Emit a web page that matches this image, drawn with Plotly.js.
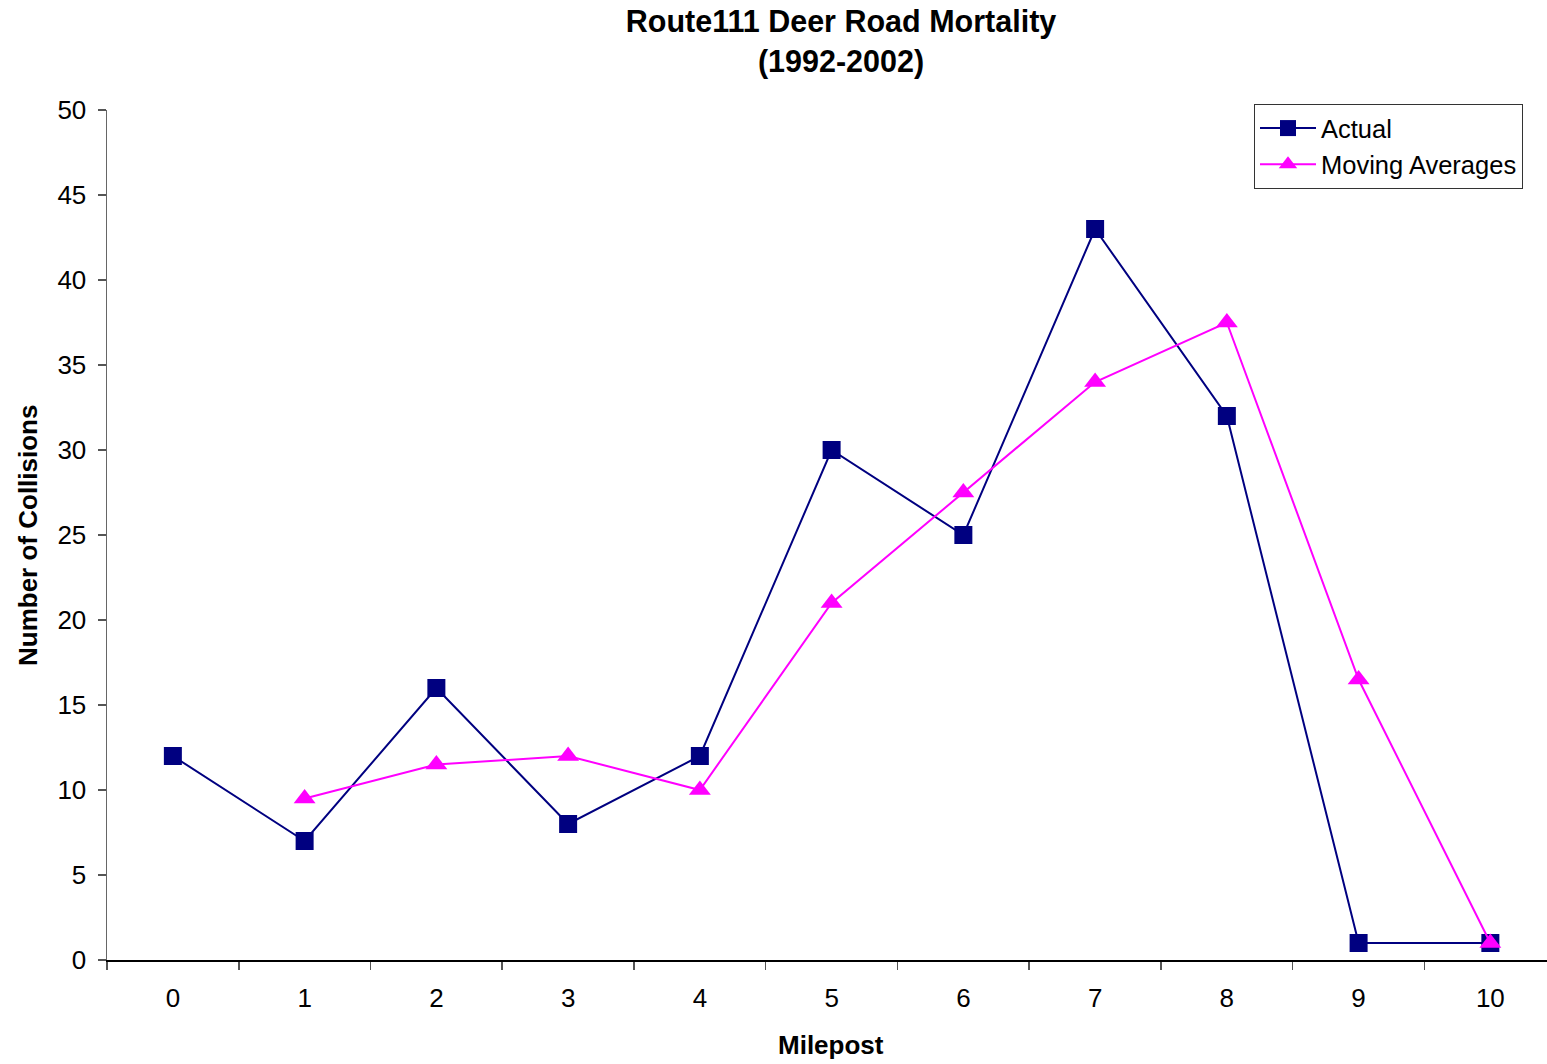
<!DOCTYPE html>
<html>
<head>
<meta charset="utf-8">
<script src="https://cdn.plot.ly/plotly-3.0.1.min.js"></script>
<style>html,body{margin:0;padding:0;background:#fff;}#chart{width:1547px;height:1064px;}</style>
</head>
<body>
<div id="chart"></div>
<script>
const mileposts = ["0","1","2","3","4","5","6","7","8","9","10"];
const actual = [12, 7, 16, 8, 12, 30, 25, 43, 32, 1, 1];
const movingAverages = [null, 9.5, 11.5, 12, 10, 21, 27.5, 34, 37.5, 16.5, 1];
const yTicks = [0, 5, 10, 15, 20, 25, 30, 35, 40, 45, 50];

const FONT = "Liberation Sans, Arial, sans-serif";

const traces = [
  {
    x: mileposts, y: actual, name: "Actual", type: "scatter", mode: "lines+markers",
    line: {color: "#000080", width: 2},
    marker: {symbol: "square", size: 18, color: "#000080"}
  },
  {
    x: mileposts, y: movingAverages, name: "Moving Averages", type: "scatter", mode: "lines+markers",
    connectgaps: false,
    line: {color: "#FF00FF", width: 2},
    marker: {symbol: "triangle-up", size: 19, color: "#FF00FF"}
  }
];

const layout = {
  width: 1547, height: 1064,
  margin: {l: 107, r: 0, t: 110, b: 104},
  paper_bgcolor: "#fff", plot_bgcolor: "#fff",
  font: {family: FONT, size: 26, color: "#000"},
  title: {
    text: "<b>Route111 Deer Road Mortality<br>(1992-2002)</b>",
    font: {family: FONT, size: 30.5, color: "#000"},
    xref: "container", yref: "container",
    x: 841/1547, xanchor: "center",
    y: 1 - 32/1064, yanchor: "middle"
  },
  xaxis: {
    type: "category",
    categoryorder: "array", categoryarray: mileposts,
    range: [-0.5, 10.43],
    tickson: "boundaries",
    ticks: "outside", ticklen: 8, tickcolor: "#555", tickwidth: 1.5,
    ticklabelstandoff: 14,
    showline: true, linecolor: "#000", linewidth: 1.5,
    showgrid: false, zeroline: false,
    tickfont: {family: FONT, size: 26},
    fixedrange: true
  },
  yaxis: {
    range: [0, 50],
    tickmode: "array", tickvals: yTicks,
    ticks: "outside", ticklen: 8, tickcolor: "#555", tickwidth: 1.5,
    ticklabelstandoff: 6,
    showline: true, linecolor: "#666", linewidth: 1.5,
    showgrid: false, zeroline: false,
    tickfont: {family: FONT, size: 26},
    fixedrange: true
  },
  legend: {
    x: (1254-107)/1440, xanchor: "left",
    y: (960-104)/850, yanchor: "top",
    bgcolor: "#fff", bordercolor: "#333", borderwidth: 1,
    font: {family: FONT, size: 25.5, color: "#000"},
    itemwidth: 56,
    tracegroupgap: 0
  },
  annotations: [
    {text: "<b>Milepost</b>", xref: "paper", yref: "paper",
     x: (831-107)/1440, y: -(1045-960)/850, xanchor: "center", yanchor: "middle",
     showarrow: false, font: {family: FONT, size: 26, color: "#000"}},
    {text: "<b>Number of Collisions</b>", xref: "paper", yref: "paper",
     x: -(107-28)/1440, y: (960-536)/850, xanchor: "center", yanchor: "middle",
     textangle: -90, showarrow: false, font: {family: FONT, size: 26, color: "#000"}}
  ],
  showlegend: true
};

Plotly.newPlot("chart", traces, layout, {displayModeBar: false, staticPlot: true});
</script>
</body>
</html>
